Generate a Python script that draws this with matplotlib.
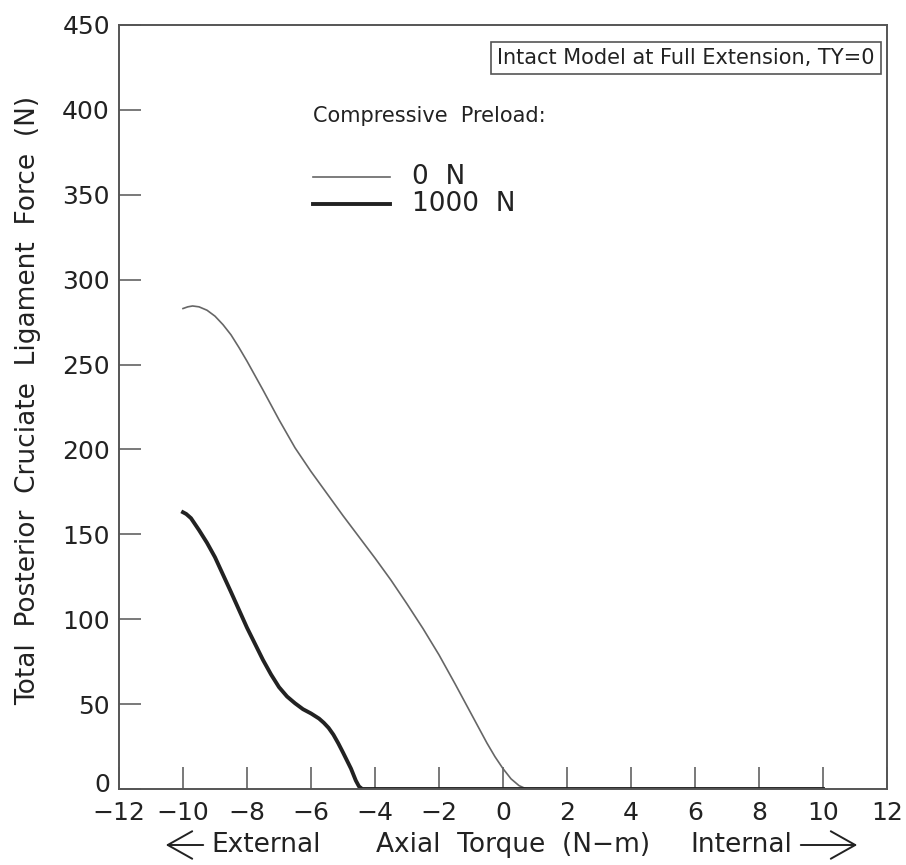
import numpy as np
import matplotlib
matplotlib.use('Agg')
import matplotlib.pyplot as plt
from matplotlib.patches import FancyArrowPatch
from matplotlib.lines import Line2D
from matplotlib.transforms import ScaledTranslation

# Axial torque (N-m) and total PCL force (N) for the two compressive preloads
torque_0n = [-10, -9.85, -9.7, -9.5, -9.25, -9, -8.75, -8.5, -8.25, -8, -7.5, -7, -6.5,
             -6, -5.5, -5, -4.5, -4, -3.5, -3, -2.5, -2, -1.5, -1, -0.5, -0.25, 0,
             0.25, 0.5, 0.7, 0.8, 2, 4, 6, 8, 10]
force_0n = [283, 284, 284.5, 284, 282, 278.5, 273.5, 267.5, 260, 252, 235, 217.5, 201,
            187, 174, 161, 148.5, 136, 123, 109, 94.5, 79, 62, 44.5, 27, 19, 12,
            6, 2, 0.3, 0, 0, 0, 0, 0, 0]

torque_1000n = [-10, -9.9, -9.75, -9.5, -9.25, -9, -8.5, -8, -7.5, -7.25, -7, -6.75,
                -6.5, -6.25, -6, -5.75, -5.6, -5.45, -5.3, -5.15, -5, -4.75, -4.6,
                -4.5, -4.4, -2, 0, 2, 4, 6, 8, 10]
force_1000n = [163, 162, 159.5, 152.5, 145, 136.5, 116, 95, 76, 67.5, 60, 54.5,
               50.5, 47, 44.5, 41.5, 39, 36, 32, 27, 21.5, 12, 5,
               1.5, 0, 0, 0, 0, 0, 0, 0, 0]

x_ticks = np.arange(-12, 13, 2)
y_ticks = np.arange(0, 451, 50)

W, H = 906, 865
fig = plt.figure(figsize=(W / 100, H / 100), dpi=100)
ax = fig.add_axes([119 / W, (H - 789) / H, 768 / W, 764 / H])

ax.plot(torque_0n, force_0n, color='#666666', lw=1.2, label='0  N')
ax.plot(torque_1000n, force_1000n, color='#222222', lw=2.8, label='1000  N',
        solid_joinstyle='round')

ax.set_xlim(-12, 12)
ax.set_ylim(0, 450)
ax.set_xticks(x_ticks)
ax.set_xticklabels([f'{t:d}'.replace('-', '\u2212') for t in x_ticks])
ax.set_yticks(y_ticks)
ax.tick_params(axis='x', direction='in', length=16, width=1.1, color='#555555',
               labelsize=18, pad=9, labelcolor='#222222')
ax.tick_params(axis='y', direction='in', length=16, width=1.1, color='#555555',
               labelsize=18, pad=6.5, labelcolor='#222222')
for s in ax.spines.values():
    s.set_color('#555555')
    s.set_linewidth(1.4)

# lift the y "0" so it clears the -12 below it
zero_lbl = ax.get_yticklabels()[0]
zero_lbl.set_transform(zero_lbl.get_transform() + ScaledTranslation(0, 5 / 72, fig.dpi_scale_trans))

# y label
fig.text(28 / W, 1 - 400 / H, 'Total  Posterior  Cruciate  Ligament  Force  (N)',
         rotation=90, ha='center', va='center', fontsize=19, color='#222222')


def fx(px):
    return px / W


def fy(py):
    return 1 - py / H


# x label with direction arrows
row = 845
fig.text(fx(266), fy(row), 'External', ha='center', va='center', fontsize=19, color='#222222')
fig.text(fx(513), fy(row), 'Axial  Torque  (N\u2212m)', ha='center', va='center',
         fontsize=19, color='#222222')
fig.text(fx(741), fy(row), 'Internal', ha='center', va='center', fontsize=19, color='#222222')
arrow = dict(arrowstyle='->,head_length=0.8,head_width=0.45', mutation_scale=22,
             color='#222222', lw=1.4, transform=fig.transFigure)
fig.add_artist(FancyArrowPatch((fx(206), fy(row)), (fx(163), fy(row)), **arrow))
fig.add_artist(FancyArrowPatch((fx(798), fy(row)), (fx(860), fy(row)), **arrow))

# legend block
fig.text(fx(313), fy(116), 'Compressive  Preload:', ha='left', va='center',
         fontsize=15, color='#222222')
for line, ypx in zip(ax.get_lines(), [177, 204]):
    fig.add_artist(Line2D([fx(313), fx(390)], [fy(ypx), fy(ypx)],
                          color=line.get_color(), lw=line.get_linewidth(),
                          transform=fig.transFigure))
    fig.text(fx(412), fy(ypx), line.get_label(), ha='left', va='center',
             fontsize=19, color='#222222')

# case box in the upper right
fig.text(fx(686), fy(58), 'Intact Model at Full Extension, TY=0', ha='center', va='center',
         fontsize=15, color='#222222',
         bbox=dict(boxstyle='square,pad=0.3', fc='white', ec='#555555', lw=1.2))

fig.savefig('out.png', dpi=100)
